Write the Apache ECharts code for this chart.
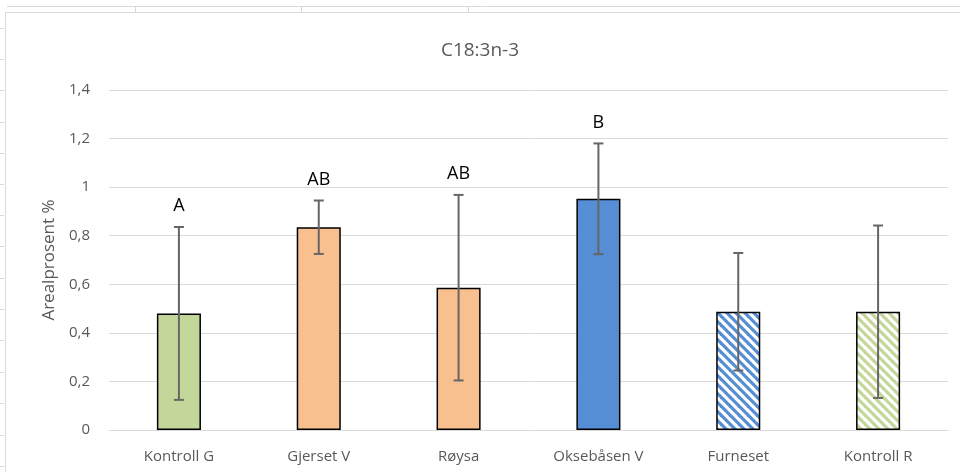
<!DOCTYPE html>
<html><head><meta charset="utf-8">
<script src="https://cdn.jsdelivr.net/npm/echarts@6/dist/echarts.min.js"></script>
<style>html,body{margin:0;padding:0;background:#fff}#c{width:960px;height:472px}</style>
</head><body><div id="c"></div>
<script>
const categories = ['Kontroll G','Gjerset V','Røysa','Oksebåsen V','Furneset','Kontroll R'];
const means = [0.48, 0.835, 0.586, 0.952, 0.487, 0.487];
const errors = [0.356, 0.11, 0.382, 0.228, 0.242, 0.355];
const letters = ['A','AB','AB','B','',''];
const yTicks = [0,0.2,0.4,0.6,0.8,1,1.2,1.4];

function stripe(color){
  const s=9, c=document.createElement('canvas'); c.width=s; c.height=s;
  const g=c.getContext('2d'); g.fillStyle='#fff'; g.fillRect(0,0,s,s);
  g.strokeStyle=color; g.lineWidth=3.2;
  for(const o of [-s,0,s]){ g.beginPath(); g.moveTo(o-2,-2); g.lineTo(o+s+2,s+2); g.stroke(); }
  return {image:c, repeat:'repeat'};
}
const fills = ['#C4D79B','#F9C08F','#F9C08F','#558ED5',stripe('#558ED5'),stripe('#C4D79B')];

const chart = echarts.init(document.getElementById('c'));
const font = 'Open Sans, Noto Sans, sans-serif';
const graphics = [];
graphics.push({type:'line',shape:{x1:7,y1:6.5,x2:960,y2:6.5},style:{stroke:'#d9d9d9',lineWidth:1}});
for(const x of [135,301,468]) graphics.push({type:'line',shape:{x1:x+0.5,y1:6,x2:x+0.5,y2:12},style:{stroke:'#d9d9d9',lineWidth:1}});
graphics.push({type:'line',shape:{x1:5,y1:12.5,x2:960,y2:12.5},style:{stroke:'#d9d9d9',lineWidth:1}});
graphics.push({type:'line',shape:{x1:5.5,y1:12,x2:5.5,y2:472},style:{stroke:'#d9d9d9',lineWidth:1}});
for(const y of [28,59,90,122,153,184,215,246,278,309,340,372,403,435,466]) graphics.push({type:'line',shape:{x1:0,y1:y+0.5,x2:4,y2:y+0.5},style:{stroke:'#d9d9d9',lineWidth:1}});

chart.setOption({
  animation:false,
  title:{text:'C18:3n-3',left:'center',top:36,textStyle:{fontFamily:font,fontSize:19,fontWeight:'normal',color:'#595959'}},
  grid:{left:109,right:12,top:90,bottom:42},
  xAxis:{type:'category',data:categories,axisTick:{show:false},
    axisLine:{lineStyle:{color:'#d9d9d9',width:1}},
    axisLabel:{color:'#595959',fontFamily:font,fontSize:15,margin:19}},
  yAxis:{type:'value',min:0,max:1.4,interval:0.2,
    name:'Arealprosent %',nameLocation:'middle',nameGap:50,nameRotate:90,
    nameTextStyle:{color:'#595959',fontFamily:font,fontSize:17},
    axisLine:{show:false},axisTick:{show:false},
    splitLine:{lineStyle:{color:'#d9d9d9',width:1}},
    axisLabel:{color:'#595959',fontFamily:font,fontSize:15,margin:19,
      formatter:v=>{const t=yTicks.find(k=>Math.abs(k-v)<1e-9); return String(t!==undefined?t:v).replace('.',',');}}},
  series:[
    {type:'bar',barWidth:'31.5%',
     data:means.map((v,i)=>({value:v,itemStyle:{color:fills[i],borderColor:'#000',borderWidth:1.5}}))},
    {type:'custom',z:10,
     data:means.map((v,i)=>[i,v-errors[i],v+errors[i]]),
     renderItem:(params,api)=>{
       const i=api.value(0);
       const lo=api.coord([i,api.value(1)]), hi=api.coord([i,api.value(2)]);
       const st={stroke:'#666',lineWidth:2};
       const ch=[
         {type:'line',shape:{x1:hi[0],y1:hi[1],x2:lo[0],y2:lo[1]},style:st},
         {type:'line',shape:{x1:hi[0]-5,y1:hi[1],x2:hi[0]+5,y2:hi[1]},style:st},
         {type:'line',shape:{x1:lo[0]-5,y1:lo[1],x2:lo[0]+5,y2:lo[1]},style:st}
       ];
       const L=letters[params.dataIndex];
       if(L) ch.push({type:'text',style:{text:L,x:hi[0],y:hi[1]-21,align:'center',verticalAlign:'middle',fill:'#000',font:'18px '+font}});
       return {type:'group',children:ch};
     }}
  ],
  graphic:graphics
});
</script></body></html>
